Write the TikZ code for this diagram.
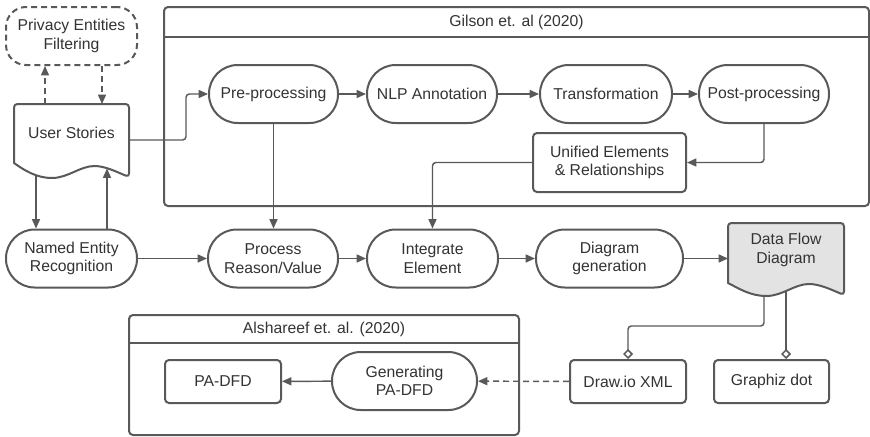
\documentclass[tikz,border=0pt]{standalone}
\usepackage{fontspec}
\setmainfont{Liberation Sans}
\usetikzlibrary{arrows.meta}
\definecolor{lc}{HTML}{595959}
\definecolor{tc}{HTML}{333333}
\definecolor{docfill}{HTML}{E3E3E3}
\newcommand{\nodefont}{\fontsize{11.8pt}{13.9pt}\selectfont}
\tikzset{
  base/.style={draw=lc, line width=1.5pt, text=tc, align=center, font=\nodefont,
    inner sep=0pt, fill=white},
  stadium/.style={base, rounded corners=21.5pt, minimum height=43.5pt},
  boxnode/.style={base, rounded corners=3pt},
  txt/.style={text=tc, align=center, font=\nodefont, inner sep=0pt},
  frame/.style={draw=lc, line width=1.5pt, rounded corners=3pt, inner sep=0pt},
  frameline/.style={draw=lc, line width=1.5pt},
  docline/.style={draw=lc, line width=1.5pt, line join=round},
  conn/.style={draw=lc, line width=1.1pt, rounded corners=2.5pt,
    -{Triangle[length=7pt,width=6pt]}},
  dconn/.style={conn, dash pattern=on 4.5pt off 3pt},
  diam/.style={draw=lc, line width=1.1pt, rounded corners=2.5pt,
    {Diamond[open,length=7.5pt,width=7.5pt]}-},
}
\begin{document}
\begin{tikzpicture}[x=0.75pt, y=-0.75pt]
\useasboundingbox (0,0) rectangle (870,436);

% group frames
\node[frame, minimum width=528.75pt, minimum height=149.25pt] (gil) at (516.5,106.5) {};
\draw[frameline] ([yshift=-23.25pt]gil.north west) -- ([yshift=-23.25pt]gil.north east);
\node[txt] (giltitle) at (516.5,22.5) {Gilson et. al (2020)};

\node[frame, minimum width=292.5pt, minimum height=90pt] (als) at (324,375) {};
\draw[frameline] ([yshift=-21.75pt]als.north west) -- ([yshift=-21.75pt]als.north east);
\node[txt] (alstitle) at (324,329.5) {Alshareef et. al. (2020)};

% privacy filter
\node[base, dashed, dash pattern=on 4.5pt off 3pt, rounded corners=15pt,
  minimum width=98.25pt, minimum height=43.5pt] (pef) at (71.5,36) {Privacy Entities\\Filtering};

% user stories document
\draw[docline, fill=white] (14,163) [rounded corners=2.5pt] -- (14,104) -- (129,104)
  -- (129,177) [sharp corners] .. controls (117,172) and (105,166) .. (94.5,166)
  .. controls (80,166) and (68,178) .. (52,178)
  .. controls (36,178) and (24,170) .. (14,163) -- cycle;
\node[txt] (us) at (71.5,133) {User Stories};
\coordinate (usT1) at (45,104);
\coordinate (usT2) at (102,104);
\coordinate (usE) at (129,140);
\coordinate (usB1) at (36,174.5);
\coordinate (usB2) at (107,168.5);

% data flow diagram document
\draw[docline, fill=docfill] (728,283) [rounded corners=2.5pt] -- (728,223) -- (844,223)
  -- (844,295) [sharp corners] .. controls (832,290) and (820,284) .. (809,284)
  .. controls (794.5,284) and (782.5,296) .. (766.3,296)
  .. controls (750,296) and (738,288) .. (728,283) -- cycle;
\node[txt] (dfd) at (786,250) {Data Flow\\Diagram};
\coordinate (dfdB1) at (764,296);
\coordinate (dfdB2) at (786,290.5);

% first row
\node[stadium, minimum width=96.75pt] (pre) at (273.5,94) {Pre-processing};
\node[stadium, minimum width=97.5pt] (nlp) at (432,94) {NLP Annotation};
\node[stadium, minimum width=99pt] (tra) at (606,94) {Transformation};
\node[stadium, minimum width=97.5pt] (post) at (764,94) {Post-processing};
\node[boxnode, minimum width=114.75pt, minimum height=44.25pt] (uni) at (609.5,162.5) {Unified Elements\\\& Relationships};

% second row
\node[stadium, minimum width=98.25pt] (ner) at (71.5,258.5) {Named Entity\\Recognition};
\node[stadium, minimum width=97.5pt] (prv) at (273,258.5) {Process\\Reason/Value};
\node[stadium, minimum width=98.25pt] (ie) at (432.5,258.5) {Integrate\\Element};
\node[stadium, minimum width=110.25pt] (dg) at (609.5,258.5) {Diagram\\generation};

% bottom row
\node[boxnode, minimum width=87pt, minimum height=32.25pt] (pad) at (223,381.5) {PA-DFD};
\node[stadium, minimum width=108.75pt] (gen) at (404.5,381) {Generating\\PA-DFD};
\node[boxnode, minimum width=87pt, minimum height=32.25pt] (drawio) at (628,381.5) {Draw.io XML};
\node[boxnode, minimum width=86.25pt, minimum height=32.25pt] (gdot) at (771.5,381.5) {Graphiz dot};

% connectors
\draw[dconn] (usT1) -- (usT1 |- pef.south);
\draw[dconn] (usT2 |- pef.south) -- (usT2);
\draw[conn] (usE) -| ([xshift=-16.5pt]pre.west) -- (pre.west);
\draw[conn] (usB1) -- (usB1 |- ner.north);
\draw[conn] (usB2 |- ner.north) -- (usB2);
\draw[conn] (pre) -- (nlp);
\draw[conn] (nlp) -- (tra);
\draw[conn] (tra) -- (post);
\draw[conn] (post.south) |- (uni.east);
\draw[conn] (uni.west) -| (ie.north);
\draw[conn] (pre.south) -- (pre.south |- prv.north);
\draw[conn] (ner) -- (prv);
\draw[conn] (prv) -- (ie);
\draw[conn] (ie) -- (dg);
\draw[conn] (dg.east) -- (dg.east -| 728,0);
\draw[diam] (drawio.north) -- ++(0,-33) -| (dfdB1);
\draw[diam] (gdot.north -| dfdB2) -- (dfdB2);
\draw[dconn] (drawio) -- (gen);
\draw[conn] (gen) -- (pad);
\end{tikzpicture}
\end{document}
